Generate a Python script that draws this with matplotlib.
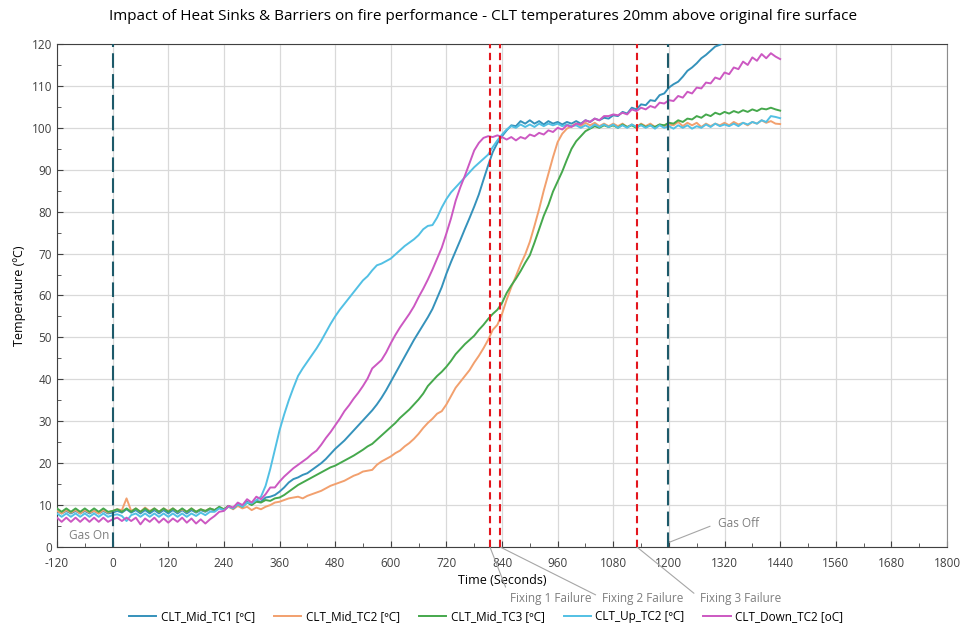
import numpy as np
import matplotlib
matplotlib.use("Agg")
import matplotlib.pyplot as plt

plt.rcParams['font.family'] = ['Open Sans', 'DejaVu Sans']
plt.rcParams['axes.unicode_minus'] = False

# time axis, 10 s steps from -120 to 1440
time_s = np.arange(-120, 1441, 10)

mid_tc1 = [
    8.6, 8.0, 8.6, 8.0, 8.6, 8.0, 8.6, 8.0, 8.6, 8.0, 8.6, 8.0,
    8.2, 8.6, 8.2, 9.0, 8.2, 8.8, 8.0, 8.8, 8.0, 8.8, 8.0, 8.8,
    8.0, 8.8, 8.0, 8.8, 8.0, 8.8, 8.2, 8.8, 8.4, 9.0, 8.8, 9.4,
    8.8, 9.8, 9.2, 10.4, 9.6, 10.8, 10.2, 11.0, 10.8, 11.8, 12.0, 12.4,
    13.2, 14.2, 15.4, 16.2, 16.6, 17.2, 17.6, 18.4, 19.2, 20.0, 21.0, 22.2,
    23.4, 24.4, 25.4, 26.6, 27.8, 29.0, 30.2, 31.4, 32.6, 34.0, 35.6, 37.4,
    39.4, 41.4, 43.4, 45.4, 47.4, 49.4, 51.2, 53.0, 54.8, 56.8, 59.4, 62.0,
    65.2, 68.0, 70.6, 73.2, 75.9, 78.5, 81.2, 84.1, 87.6, 91.0, 94.2, 96.4,
    98.0, 99.4, 100.6, 100.4, 101.6, 101.0, 101.8, 101.0, 101.6, 100.8, 101.6, 101.0,
    101.4, 100.8, 101.4, 101.0, 101.6, 101.0, 101.8, 101.4, 102.2, 101.8, 102.4, 102.2,
    103.0, 102.8, 103.8, 103.4, 104.8, 104.4, 105.6, 105.4, 106.6, 106.4, 107.8, 108.2,
    109.6, 110.4, 111.0, 112.2, 113.6, 114.4, 115.4, 116.6, 117.4, 118.4, 119.4, 119.8,
    120.4,
]

mid_tc2 = [
    8.6, 8.0, 8.8, 8.2, 8.8, 8.0, 8.8, 8.2, 8.6, 8.0, 8.8, 8.2,
    8.6, 9.0, 8.8, 11.6, 8.6, 9.2, 8.4, 9.4, 8.6, 9.2, 8.4, 9.2,
    8.6, 9.2, 8.4, 9.0, 8.4, 9.2, 8.4, 9.0, 8.6, 9.2, 8.8, 9.4,
    9.0, 9.6, 9.0, 9.8, 9.2, 9.6, 8.8, 9.4, 9.0, 9.6, 10.0, 10.6,
    10.8, 11.2, 11.6, 11.8, 12.0, 11.6, 12.2, 12.6, 13.0, 13.4, 14.0, 14.6,
    15.0, 15.4, 15.8, 16.4, 17.0, 17.4, 18.0, 18.2, 18.4, 19.6, 20.4, 21.0,
    21.6, 22.4, 23.0, 24.0, 24.8, 25.8, 27.0, 28.4, 29.6, 30.6, 31.8, 32.4,
    34.0, 36.0, 38.0, 39.4, 40.8, 42.2, 44.0, 45.6, 47.4, 49.4, 51.8, 53.0,
    55.6, 59.0, 62.0, 64.6, 67.4, 69.8, 72.8, 76.6, 80.6, 85.0, 89.0, 93.0,
    96.6, 98.6, 99.8, 100.4, 101.0, 100.4, 101.2, 100.6, 101.2, 100.4, 101.0, 100.4,
    101.0, 100.4, 101.0, 100.2, 100.8, 100.2, 101.0, 100.4, 101.0, 100.2, 100.8, 100.4,
    100.8, 100.6, 101.4, 100.4, 101.2, 100.6, 101.2, 100.2, 101.0, 100.4, 101.0, 100.6,
    101.2, 100.6, 101.4, 100.8, 101.2, 100.6, 101.4, 101.0, 101.8, 101.2, 101.6, 101.0,
    100.9,
]

mid_tc3 = [
    9.2, 8.4, 9.2, 8.4, 9.2, 8.4, 9.2, 8.4, 9.2, 8.4, 9.2, 8.4,
    8.6, 9.0, 8.4, 9.2, 8.4, 9.2, 8.4, 9.2, 8.4, 9.2, 8.4, 9.2,
    8.4, 9.2, 8.4, 9.2, 8.4, 9.2, 8.4, 9.0, 8.6, 9.2, 8.8, 9.6,
    9.0, 9.8, 9.2, 10.2, 9.6, 10.6, 10.0, 10.8, 10.6, 11.2, 11.0, 11.6,
    11.8, 12.4, 13.2, 14.0, 14.8, 15.4, 16.0, 16.6, 17.2, 17.8, 18.4, 19.0,
    19.4, 20.0, 20.6, 21.2, 21.8, 22.5, 23.2, 24.0, 24.6, 25.6, 26.6, 27.6,
    28.6, 29.6, 30.8, 31.8, 32.8, 34.0, 35.2, 36.6, 38.4, 39.6, 40.8, 41.8,
    43.0, 44.4, 46.0, 47.2, 48.4, 49.4, 50.4, 51.8, 53.0, 54.4, 55.6, 56.6,
    58.2, 60.6, 62.4, 64.0, 65.8, 67.8, 69.6, 72.6, 75.8, 79.0, 81.6, 84.8,
    87.2, 89.6, 92.4, 95.0, 96.8, 98.0, 99.2, 99.8, 100.4, 100.0, 100.6, 100.2,
    100.6, 100.0, 100.8, 100.2, 100.6, 100.0, 100.8, 100.2, 100.6, 100.2, 100.8, 100.6,
    101.2, 101.0, 101.8, 101.4, 102.2, 102.0, 102.8, 102.4, 103.2, 102.8, 103.6, 103.2,
    103.8, 103.4, 104.0, 103.6, 104.2, 103.8, 104.4, 104.0, 104.6, 104.4, 104.8, 104.4,
    104.1,
]

up_tc2 = [
    8.0, 7.2, 8.0, 7.2, 8.0, 7.2, 8.0, 7.2, 8.0, 7.2, 8.0, 7.2,
    7.6, 7.8, 7.4, 6.2, 7.6, 8.0, 7.2, 8.0, 7.2, 8.0, 7.2, 8.0,
    7.2, 8.0, 7.2, 8.0, 7.2, 8.0, 7.4, 8.2, 7.6, 8.4, 8.4, 9.2,
    8.8, 9.6, 9.2, 10.2, 9.6, 10.6, 10.4, 11.2, 12.0, 14.6, 18.6, 23.2,
    27.8, 31.6, 35.0, 38.0, 40.8, 42.6, 44.2, 45.8, 47.4, 49.2, 51.2, 53.2,
    55.0, 56.6, 58.0, 59.4, 60.8, 62.2, 63.6, 64.6, 66.0, 67.2, 67.6, 68.2,
    68.8, 69.8, 70.8, 71.8, 72.6, 73.4, 74.4, 75.8, 76.6, 76.8, 78.6, 81.0,
    83.0, 84.6, 85.8, 87.0, 88.2, 89.4, 90.6, 91.6, 92.6, 93.6, 95.4, 97.0,
    98.4, 99.6, 100.4, 100.0, 100.8, 100.2, 100.8, 100.2, 101.0, 100.4, 101.0, 100.6,
    101.0, 100.4, 100.8, 100.4, 100.6, 100.0, 100.6, 100.0, 100.8, 100.2, 100.8, 100.2,
    100.8, 100.0, 100.6, 100.0, 100.8, 100.2, 100.6, 100.0, 100.6, 99.8, 100.6, 100.0,
    100.4, 99.8, 100.6, 100.0, 100.6, 99.8, 100.4, 100.0, 100.8, 100.2, 101.0, 100.4,
    100.8, 100.4, 101.0, 100.4, 101.2, 100.8, 101.4, 101.0, 101.8, 101.4, 102.8, 102.6,
    102.3,
]

down_tc2 = [
    7.0, 6.0, 7.0, 6.0, 7.0, 6.0, 7.0, 6.0, 7.0, 6.0, 7.0, 6.0,
    6.6, 7.0, 6.2, 7.0, 6.2, 7.0, 5.4, 6.8, 6.0, 7.0, 5.8, 6.8,
    5.8, 6.8, 6.0, 7.0, 5.8, 6.8, 5.6, 6.6, 5.6, 6.6, 7.4, 8.4,
    8.6, 9.8, 9.4, 10.6, 10.0, 11.4, 10.6, 12.0, 11.4, 12.6, 14.2, 14.2,
    15.6, 16.8, 17.8, 18.8, 19.6, 20.4, 21.2, 22.2, 23.0, 24.4, 26.0, 27.4,
    29.0, 30.6, 32.4, 33.8, 35.4, 36.8, 38.4, 40.2, 42.6, 43.6, 44.6, 46.4,
    48.6, 50.6, 52.4, 54.0, 55.6, 57.4, 59.6, 61.6, 63.8, 66.2, 68.8, 71.4,
    74.8, 78.4, 82.6, 85.8, 88.6, 91.6, 94.6, 96.4, 97.6, 98.0, 97.8, 98.2,
    97.8, 97.2, 97.8, 97.0, 97.8, 97.4, 98.4, 98.0, 98.8, 98.4, 99.4, 99.0,
    100.0, 99.6, 100.6, 100.2, 101.0, 100.8, 101.8, 101.4, 102.2, 101.8, 102.8, 102.8,
    103.2, 103.0, 103.6, 103.2, 104.4, 104.0, 104.8, 104.4, 105.2, 104.8, 106.0, 105.8,
    106.6, 106.4, 107.6, 107.2, 108.6, 108.2, 109.6, 109.4, 110.8, 110.6, 112.0, 111.6,
    113.2, 112.8, 114.4, 114.0, 115.8, 115.0, 116.8, 116.0, 117.6, 116.6, 117.8, 117.0,
    116.4,
]

series = [
    ("CLT_Mid_TC1 [ºC]", mid_tc1, "#3592bb"),
    ("CLT_Mid_TC2 [ºC]", mid_tc2, "#f2a06e"),
    ("CLT_Mid_TC3 [ºC]", mid_tc3, "#45a84c"),
    ("CLT_Up_TC2 [ºC]", up_tc2, "#52c0e4"),
    ("CLT_Down_TC2 [oC]", down_tc2, "#cc58c2"),
]

gas_times = [0, 1198]
fixing_times = [814, 836, 1131]
fixing_labels = ["Fixing 1 Failure", "Fixing 2 Failure", "Fixing 3 Failure"]
fixing_text_x = [857, 1056, 1267]

fig = plt.figure(figsize=(9.63, 6.24), dpi=100)
ax = fig.add_axes([0.0592, 0.1234, 0.9242, 0.8061])

for name, vals, col in series:
    ax.plot(time_s[:len(vals)], vals, color=col, lw=1.4, label=name, zorder=3)

for t in fixing_times:
    ax.axvline(t, color="#e3161e", lw=1.5, dashes=(3.5, 2.2), zorder=4)
for t in gas_times:
    ax.axvline(t, color="#1d5a6a", lw=1.5, dashes=(7, 3), zorder=4)

ax.set_xlim(-120, 1800)
ax.set_ylim(0, 120)
ax.set_xticks(np.arange(-120, 1801, 120))
ax.set_xticks(np.arange(-120, 1801, 60), minor=True)
ax.set_yticks(np.arange(0, 121, 10))
ax.set_yticks(np.arange(0, 121, 5), minor=True)
ax.grid(True, which="major", color="#d9d9d9", lw=0.9, zorder=0)
ax.tick_params(which="both", direction="in", colors="#404040", labelsize=8.5)
ax.tick_params(which="major", length=4)
ax.tick_params(which="minor", length=3)
ax.tick_params(axis="x", pad=7)
for s in ["left", "bottom", "top"]:
    ax.spines[s].set_color("#404040")
ax.spines["right"].set_color("#8c8c8c")

ax.set_xlabel("Time (Seconds)", fontsize=9, labelpad=3)
ax.set_ylabel("Temperature (ºC)", fontsize=9, labelpad=4)
fig.suptitle("Impact of Heat Sinks & Barriers on fire performance - CLT temperatures 20mm above original fire surface",
             x=0.502, y=0.985, fontsize=11)

grey = "#7f7f7f"
ax.text(-95, 2.8, "Gas On", color=grey, fontsize=8.5, va="center")
ax.annotate("Gas Off", xy=(1198, 1), xytext=(1306, 5.7), color=grey, fontsize=8.5,
            va="center", ha="left",
            arrowprops=dict(arrowstyle="-", color="#a6a6a6", lw=0.8, relpos=(0, 0.5),
                            shrinkA=4, shrinkB=0))
for t, lab, tx in zip(fixing_times, fixing_labels, fixing_text_x):
    ax.annotate(lab, xy=(t, 0), xytext=(tx, -12.2), color=grey, fontsize=8.5,
                va="center", ha="left", annotation_clip=False,
                arrowprops=dict(arrowstyle="-", color="#a6a6a6", lw=0.8, relpos=(0, 0.5),
                                shrinkA=3, shrinkB=0))

fig.legend(loc="lower center", bbox_to_anchor=(0.505, -0.004), ncol=5, frameon=False,
           fontsize=8.5, handlelength=2.3, columnspacing=1.6, handletextpad=0.4,
           borderaxespad=0.1, borderpad=0.2)

fig.savefig("out.png", dpi=100)
